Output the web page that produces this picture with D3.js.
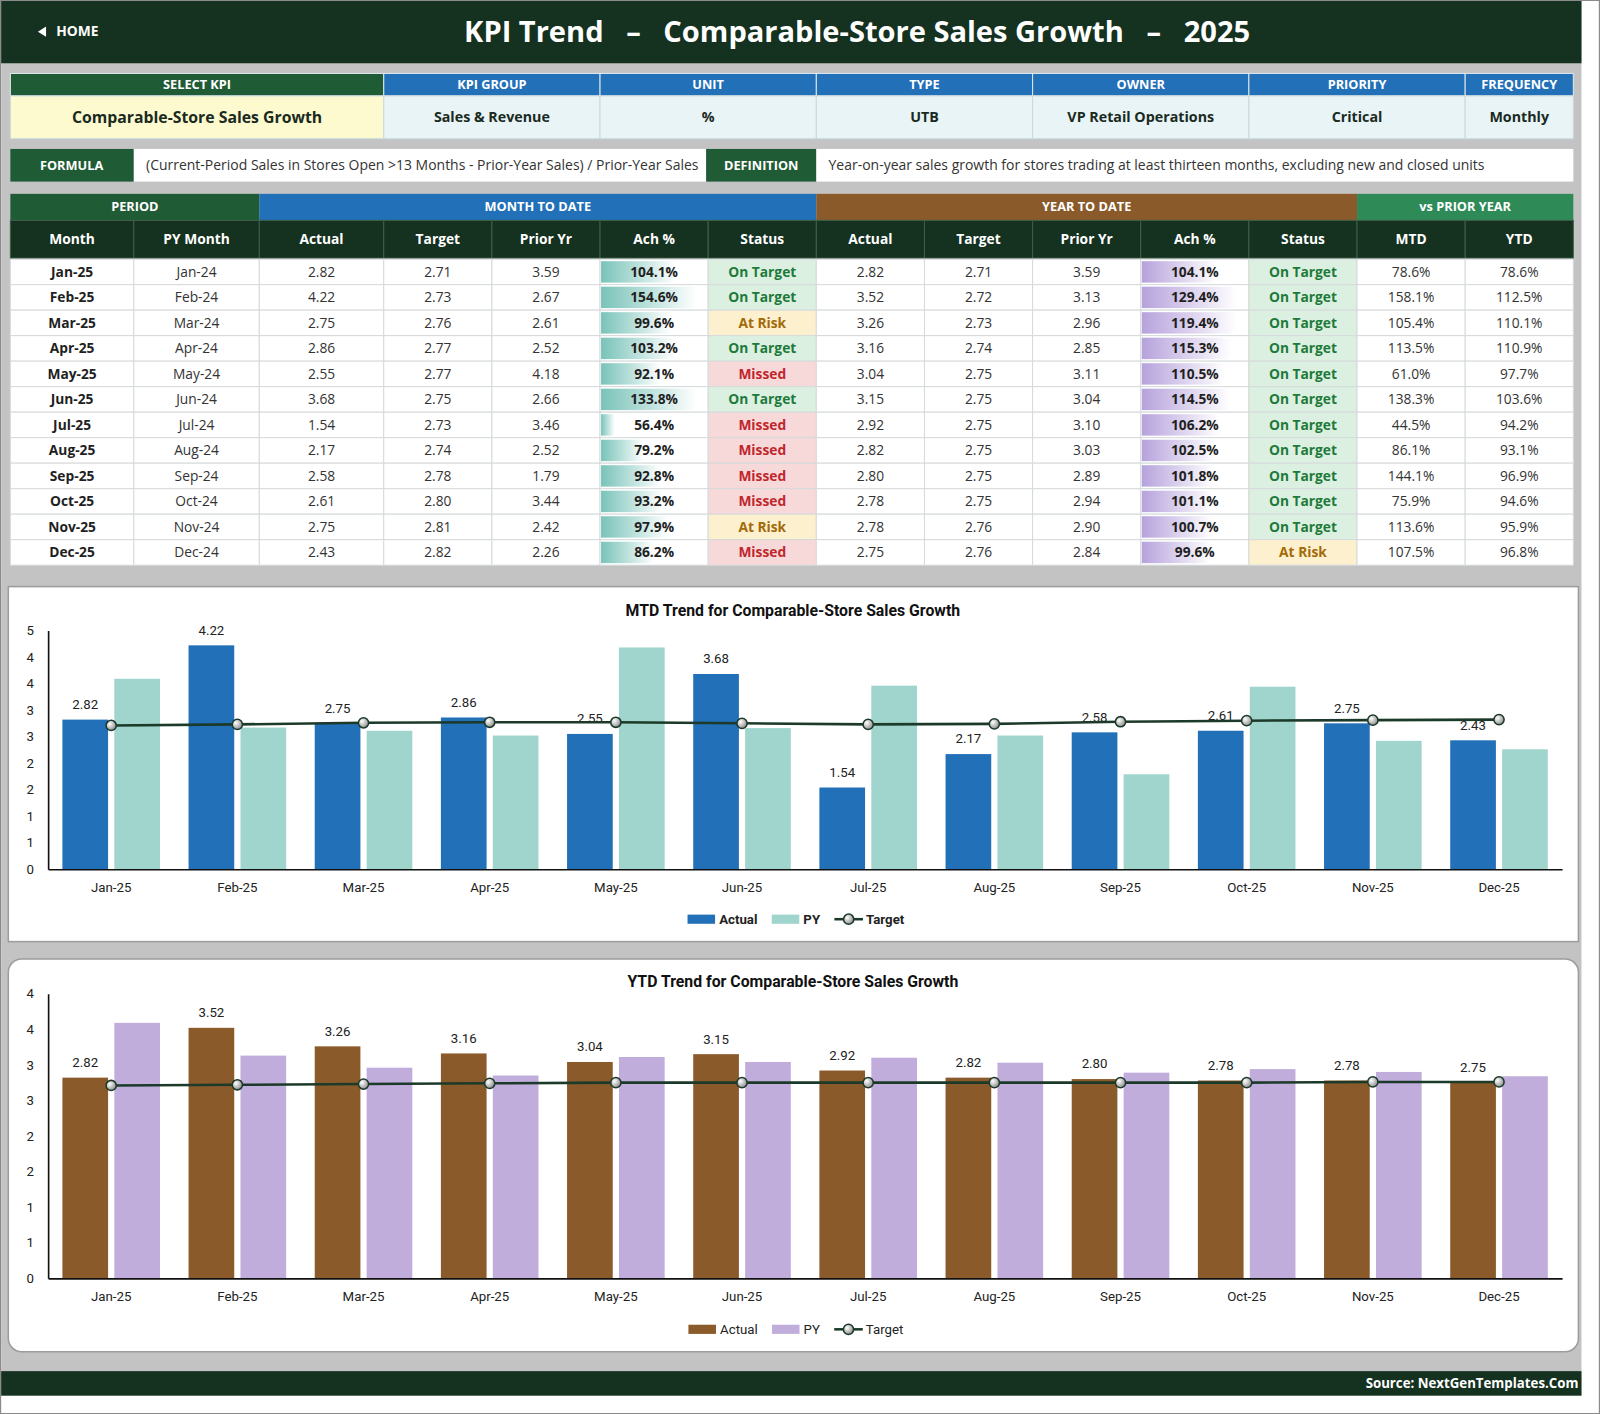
<!DOCTYPE html>
<html>
<head>
<meta charset="utf-8">
<script src="https://cdn.jsdelivr.net/npm/d3@7"></script>
<style>
  body { margin: 0; background: #fff; }
  svg { display: block; }
</style>
</head>
<body>
<svg id="dash"></svg>
<script>
// ---- data ----
const months = ["Jan-25", "Feb-25", "Mar-25", "Apr-25", "May-25", "Jun-25", "Jul-25", "Aug-25", "Sep-25", "Oct-25", "Nov-25", "Dec-25"];
const pyMonths = ["Jan-24", "Feb-24", "Mar-24", "Apr-24", "May-24", "Jun-24", "Jul-24", "Aug-24", "Sep-24", "Oct-24", "Nov-24", "Dec-24"];

const mtdActual = [2.82, 4.22, 2.75, 2.86, 2.55, 3.68, 1.54, 2.17, 2.58, 2.61, 2.75, 2.43];
const mtdTarget = [2.71, 2.73, 2.76, 2.77, 2.77, 2.75, 2.73, 2.74, 2.78, 2.80, 2.81, 2.82];
const mtdPrior = [3.59, 2.67, 2.61, 2.52, 4.18, 2.66, 3.46, 2.52, 1.79, 3.44, 2.42, 2.26];
const mtdAch = [104.1, 154.6, 99.6, 103.2, 92.1, 133.8, 56.4, 79.2, 92.8, 93.2, 97.9, 86.2];
const mtdStatus = ["On Target", "On Target", "At Risk", "On Target", "Missed", "On Target", "Missed", "Missed", "Missed", "Missed", "At Risk", "Missed"];

const ytdActual = [2.82, 3.52, 3.26, 3.16, 3.04, 3.15, 2.92, 2.82, 2.80, 2.78, 2.78, 2.75];
const ytdTarget = [2.71, 2.72, 2.73, 2.74, 2.75, 2.75, 2.75, 2.75, 2.75, 2.75, 2.76, 2.76];
const ytdPrior = [3.59, 3.13, 2.96, 2.85, 3.11, 3.04, 3.10, 3.03, 2.89, 2.94, 2.90, 2.84];
const ytdAch = [104.1, 129.4, 119.4, 115.3, 110.5, 114.5, 106.2, 102.5, 101.8, 101.1, 100.7, 99.6];
const ytdStatus = ["On Target", "On Target", "On Target", "On Target", "On Target", "On Target", "On Target", "On Target", "On Target", "On Target", "On Target", "At Risk"];

const vsPyMtd = [78.6, 158.1, 105.4, 113.5, 61.0, 138.3, 44.5, 86.1, 144.1, 75.9, 113.6, 107.5];
const vsPyYtd = [78.6, 112.5, 110.1, 110.9, 97.7, 103.6, 94.2, 93.1, 96.9, 94.6, 95.9, 96.8];

const infoHeaders = ["SELECT KPI", "KPI GROUP", "UNIT", "TYPE", "OWNER", "PRIORITY", "FREQUENCY"];
const infoValues = ["Comparable-Store Sales Growth", "Sales & Revenue", "%", "UTB", "VP Retail Operations", "Critical", "Monthly"];
const formulaText = "(Current-Period Sales in Stores Open >13 Months - Prior-Year Sales) / Prior-Year Sales";
const definitionText = "Year-on-year sales growth for stores trading at least thirteen months, excluding new and closed units";
const groupHeaders = ["PERIOD", "MONTH TO DATE", "YEAR TO DATE", "vs PRIOR YEAR"];
const columnHeaders = ["Month", "PY Month", "Actual", "Target", "Prior Yr", "Ach %", "Status", "Actual", "Target", "Prior Yr", "Ach %", "Status", "MTD", "YTD"];

// ---- setup ----
const W = 1568, H = 1386;
const svg = d3.select("#dash")
    .attr("width", 1600)
    .attr("height", 1414)
    .attr("viewBox", `0 0 ${W} ${H}`);

const tableFont = "'Open Sans', 'Noto Sans', sans-serif";
const chartFont = "'Liberation Sans Narrow', 'Roboto', sans-serif";
const darkGreen = "#15311f";
const kpiGreen = "#1f5b34";
const kpiBlue = "#2270b8";

const defs = svg.append("defs");
function barGradient(id, color) {
    const gr = defs.append("linearGradient").attr("id", id).attr("x1", 0).attr("x2", 1).attr("y1", 0).attr("y2", 0);
    gr.append("stop").attr("offset", "0%").attr("stop-color", color);
    gr.append("stop").attr("offset", "100%").attr("stop-color", "#ffffff");
}
barGradient("mtdBar", "#79c3b9");
barGradient("ytdBar", "#b6a2dc");
const mk = defs.append("radialGradient").attr("id", "marker").attr("cx", "35%").attr("cy", "35%").attr("r", "70%");
mk.append("stop").attr("offset", "0%").attr("stop-color", "#ffffff");
mk.append("stop").attr("offset", "100%").attr("stop-color", "#8c8c8c");

// background
svg.append("rect").attr("width", W).attr("height", H).attr("fill", "#ffffff").attr("stroke", "#8a8a8a").attr("stroke-width", 2);
svg.append("rect").attr("x", 1).attr("y", 1).attr("width", 1549).attr("height", 1367).attr("fill", "#c3c3c3");

function cell(x, y, w, h, fill, stroke) {
    svg.append("rect")
        .attr("x", x).attr("y", y)
        .attr("width", w).attr("height", h)
        .attr("fill", fill)
        .attr("stroke", stroke || "none")
        .attr("stroke-width", 1);
}

function label(x, y, str, size, weight, color, anchor, font) {
    return svg.append("text")
        .attr("x", x)
        .attr("y", y)
        .attr("dy", "0.35em")
        .attr("text-anchor", anchor || "middle")
        .style("font-family", font || tableFont)
        .style("font-size", `${size}px`)
        .style("font-weight", weight)
        .style("white-space", "pre")
        .attr("fill", color)
        .text(str);
}

// ---- header bar ----
svg.append("rect").attr("x", 1).attr("y", 1).attr("width", 1549).attr("height", 61).attr("fill", darkGreen);
svg.append("path").attr("d", "M37,31 L45,26 L45,36 Z").attr("fill", "#ffffff");
label(55, 31, "HOME", 13.5, 700, "#ffffff", "start");
label(840, 31, "KPI Trend   –   Comparable-Store Sales Growth   –   2025", 28.5, 700, "#ffffff");

// ---- kpi info ----
const infoEdges = [10, 376, 588, 800, 1012, 1224, 1436, 1542];
infoHeaders.forEach((h, i) => {
    const x = infoEdges[i], w = infoEdges[i + 1] - infoEdges[i];
    cell(x, 72, w, 22, i === 0 ? kpiGreen : kpiBlue, "#dfe8ee");
    label(x + w / 2, 83, h, 12.5, 700, "#ffffff");
    cell(x, 94, w, 42, i === 0 ? "#fdfad0" : "#e8f4f6", "#c9d9de");
    label(x + w / 2, 115, infoValues[i], i === 0 ? 15.5 : 14, 700, "#1b2a1e");
});

// formula / definition
cell(10, 146, 121, 32, kpiGreen);
label(70, 162, "FORMULA", 12.5, 700, "#ffffff");
cell(131, 146, 561, 32, "#ffffff");
label(143, 162, formulaText, 13.7, 400, "#333333", "start");
cell(692, 146, 108, 32, kpiGreen);
label(746, 162, "DEFINITION", 12.5, 700, "#ffffff");
cell(800, 146, 742, 32, "#ffffff");
label(812, 162, definitionText, 13.7, 400, "#333333", "start");

// ---- main table ----
const colEdges = [10, 131, 254, 376, 482, 588, 694, 800, 906, 1012, 1118, 1224, 1330, 1436, 1542];
const groupEdges = [10, 254, 800, 1330, 1542];
const groupFills = [kpiGreen, kpiBlue, "#8b5a2b", "#2e8b57"];
groupHeaders.forEach((h, i) => {
    const x = groupEdges[i], w = groupEdges[i + 1] - groupEdges[i];
    cell(x, 190, w, 26, groupFills[i]);
    label(x + w / 2, 202, h, 12.5, 700, "#ffffff");
});
columnHeaders.forEach((h, i) => {
    const x = colEdges[i], w = colEdges[i + 1] - colEdges[i];
    cell(x, 216, w, 37, darkGreen, "#3f5e4a");
    label(x + w / 2, 234, h, 13.5, 700, "#ffffff");
});

const statusStyle = {
    "On Target": {fill: "#dcf0e1", color: "#1e7a3a"},
    "At Risk": {fill: "#fdf0cf", color: "#a36a08"},
    "Missed": {fill: "#f8d9d9", color: "#c0262d"}
};
const achScale = d3.scaleLinear().domain([50, 120]).range([0.05, 0.9]).clamp(true);
const fmt2 = d3.format(".2f");
const fmtPct = d => d3.format(".1f")(d) + "%";
const rowTop = 254, rowH = 25;

months.forEach((m, r) => {
    const y = rowTop + r * rowH;
    const cy = y + rowH / 2;
    colEdges.slice(0, -1).forEach((x, c) => {
        const w = colEdges[c + 1] - x;
        let fill = "#ffffff";
        if (c === 6) fill = statusStyle[mtdStatus[r]].fill;
        if (c === 11) fill = statusStyle[ytdStatus[r]].fill;
        cell(x, y, w, rowH, fill, "#d6dadb");
    });
    // data bars in Ach % cells
    [[5, mtdAch[r], "mtdBar"], [10, ytdAch[r], "ytdBar"]].forEach(([c, v, grad]) => {
        const x = colEdges[c], w = colEdges[c + 1] - x;
        svg.append("rect")
            .attr("x", x + 1).attr("y", y + 2)
            .attr("width", (w - 2) * achScale(v)).attr("height", rowH - 4)
            .attr("fill", `url(#${grad})`);
    });
    const cx = c => (colEdges[c] + colEdges[c + 1]) / 2;
    label(cx(0), cy, m, 13.5, 700, "#1f1f1f");
    label(cx(1), cy, pyMonths[r], 13.5, 400, "#333333");
    label(cx(2), cy, fmt2(mtdActual[r]), 13.5, 400, "#333333");
    label(cx(3), cy, fmt2(mtdTarget[r]), 13.5, 400, "#333333");
    label(cx(4), cy, fmt2(mtdPrior[r]), 13.5, 400, "#333333");
    label(cx(5), cy, fmtPct(mtdAch[r]), 13.5, 700, "#1f1f1f");
    label(cx(6), cy, mtdStatus[r], 13.5, 700, statusStyle[mtdStatus[r]].color);
    label(cx(7), cy, fmt2(ytdActual[r]), 13.5, 400, "#333333");
    label(cx(8), cy, fmt2(ytdTarget[r]), 13.5, 400, "#333333");
    label(cx(9), cy, fmt2(ytdPrior[r]), 13.5, 400, "#333333");
    label(cx(10), cy, fmtPct(ytdAch[r]), 13.5, 700, "#1f1f1f");
    label(cx(11), cy, ytdStatus[r], 13.5, 700, statusStyle[ytdStatus[r]].color);
    label(cx(12), cy, fmtPct(vsPyMtd[r]), 13.5, 400, "#333333");
    label(cx(13), cy, fmtPct(vsPyYtd[r]), 13.5, 400, "#333333");
});

// ---- charts ----
function drawChart(o) {
    const g = svg.append("g");
    g.append("rect")
        .attr("x", o.box[0]).attr("y", o.box[1])
        .attr("width", o.box[2]).attr("height", o.box[3])
        .attr("rx", o.rx).attr("ry", o.rx)
        .attr("fill", "#ffffff")
        .attr("stroke", "#9c9c9c")
        .attr("stroke-width", 1.5);

    g.append("text")
        .attr("x", 777).attr("y", o.titleY).attr("dy", "0.35em")
        .attr("text-anchor", "middle")
        .style("font-family", chartFont)
        .style("font-weight", 700)
        .style("font-size", "15.5px")
        .attr("fill", "#111111")
        .text(o.title);

    const x0 = d3.scaleBand().domain(months).range([47, 1531]);
    const x1 = d3.scaleBand().domain(["Actual", "PY"]).range([14, x0.bandwidth() - 14]).paddingInner(0.12);
    const y = d3.scaleLinear().domain([0, o.yMax]).range(o.yRange);

    const series = [
        {key: "Actual", values: o.actual, color: o.actualColor},
        {key: "PY", values: o.py, color: o.pyColor}
    ];
    series.forEach(s => {
        g.append("g").selectAll("rect")
            .data(s.values)
            .join("rect")
            .attr("x", (d, i) => x0(months[i]) + x1(s.key))
            .attr("y", d => y(d))
            .attr("width", x1.bandwidth())
            .attr("height", d => y(0) - y(d))
            .attr("fill", s.color);
    });

    const yAxis = g.append("g")
        .attr("transform", "translate(47,0)")
        .call(d3.axisLeft(y)
            .tickValues(d3.range(0, o.yMax + 0.01, 0.5))
            .tickFormat(d => Math.round(d))
            .tickSize(0)
            .tickPadding(14));
    const xAxis = g.append("g")
        .attr("transform", `translate(0,${o.yRange[0]})`)
        .call(d3.axisBottom(x0).tickSize(0).tickPadding(13));
    [yAxis, xAxis].forEach(a => {
        a.select(".domain").attr("stroke", "#111111").attr("stroke-width", 1.6);
        a.selectAll("text")
            .style("font-family", chartFont)
            .style("font-size", "13px")
            .attr("fill", "#222222");
    });

    // value labels on actual bars
    g.append("g").selectAll("text")
        .data(o.actual)
        .join("text")
        .attr("x", (d, i) => x0(months[i]) + x1("Actual") + x1.bandwidth() / 2)
        .attr("y", d => y(d) - 15)
        .attr("dy", "0.35em")
        .attr("text-anchor", "middle")
        .style("font-family", chartFont)
        .style("font-size", "13px")
        .attr("fill", "#222222")
        .text(d => fmt2(d));

    // target line
    const tx = (d, i) => x0(months[i]) + x0.bandwidth() / 2;
    g.append("path")
        .attr("d", d3.line().x(tx).y(d => y(d))(o.target))
        .attr("fill", "none")
        .attr("stroke", "#1b3a29")
        .attr("stroke-width", 2.5);
    g.append("g").selectAll("circle")
        .data(o.target)
        .join("circle")
        .attr("cx", tx)
        .attr("cy", d => y(d))
        .attr("r", 5)
        .attr("fill", "url(#marker)")
        .attr("stroke", "#1b3a29")
        .attr("stroke-width", 1.5);

    // legend
    const lg = g.append("g").attr("transform", `translate(0,${o.legendY})`);
    let lx = 0;
    const items = [["Actual", o.actualColor, "bar"], ["PY", o.pyColor, "bar"], ["Target", "#1b3a29", "line"]];
    items.forEach(([name, color, type]) => {
        if (type === "bar") {
            lg.append("rect").attr("x", lx).attr("y", -4.5).attr("width", 27).attr("height", 9).attr("fill", color);
        } else {
            lg.append("line").attr("x1", lx).attr("x2", lx + 28).attr("y1", 0).attr("y2", 0).attr("stroke", color).attr("stroke-width", 2.5);
            lg.append("circle").attr("cx", lx + 14).attr("cy", 0).attr("r", 5).attr("fill", "url(#marker)").attr("stroke", color).attr("stroke-width", 1.5);
        }
        lx += 31;
        const t = lg.append("text")
            .attr("x", lx).attr("y", 0).attr("dy", "0.35em")
            .style("font-family", chartFont)
            .style("font-size", "13px")
            .style("font-weight", o.legendWeight)
            .attr("fill", "#222222")
            .text(name);
        lx += t.node().getComputedTextLength() + 14;
    });
    lg.attr("transform", `translate(${780 - (lx - 14) / 2},${o.legendY})`);
}

drawChart({
    box: [8, 575, 1539, 348], rx: 0,
    title: "MTD Trend for Comparable-Store Sales Growth", titleY: 598,
    yMax: 4.5, yRange: [852, 618],
    actual: mtdActual, py: mtdPrior, target: mtdTarget,
    actualColor: "#2270b8", pyColor: "#9fd5cd",
    legendY: 901, legendWeight: 700
});

drawChart({
    box: [8, 940, 1539, 385], rx: 13,
    title: "YTD Trend for Comparable-Store Sales Growth", titleY: 962,
    yMax: 4.0, yRange: [1253, 974],
    actual: ytdActual, py: ytdPrior, target: ytdTarget,
    actualColor: "#8b5a2b", pyColor: "#c1addc",
    legendY: 1303, legendWeight: 400
});

// ---- footer ----
svg.append("rect").attr("x", 1).attr("y", 1344).attr("width", 1549).attr("height", 24).attr("fill", darkGreen);
label(1547, 1356, "Source: NextGenTemplates.Com", 13, 700, "#ffffff", "end");
</script>
</body>
</html>
